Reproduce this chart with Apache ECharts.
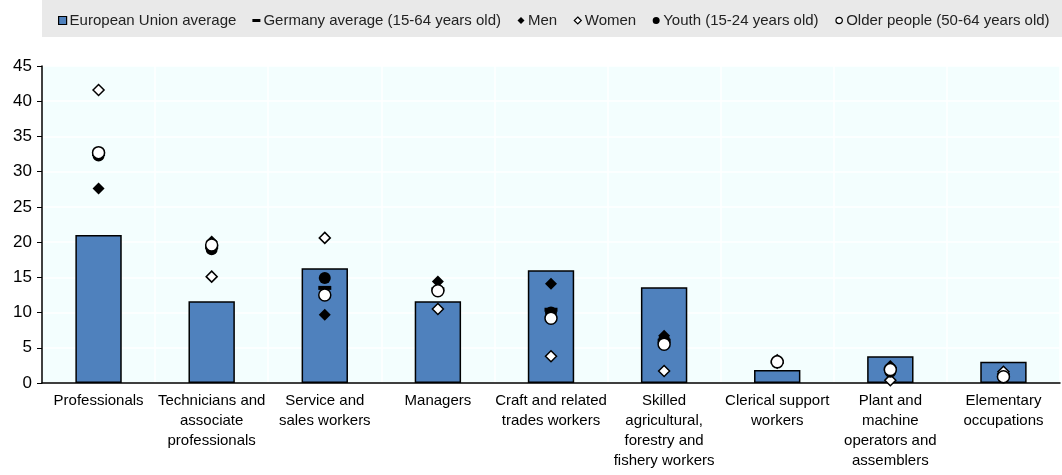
<!DOCTYPE html>
<html><head><meta charset="utf-8">
<script src="https://cdn.jsdelivr.net/npm/echarts@6/dist/echarts.min.js"></script>
<style>html,body{margin:0;padding:0;background:#fff}#c{width:1062px;height:475px}</style>
</head><body><div id="c"></div>
<script>
const categories = ['Professionals','Technicians and\nassociate\nprofessionals','Service and\nsales workers','Managers','Craft and related\ntrades workers','Skilled\nagricultural,\nforestry and\nfishery workers','Clerical support\nworkers','Plant and\nmachine\noperators and\nassemblers','Elementary\noccupations'];
const euAverage = [21.0, 11.6, 16.3, 11.6, 16.0, 13.6, 1.85, 3.8, 3.0];
const germanyAverage = [32.5, 19.3, 13.5, 13.3, 10.4, 6.0, 3.0, 2.0, 1.1];
const men = [27.6, 20.1, 9.7, 14.4, 14.1, 6.7, 3.3, 2.4, 1.4];
const women = [41.6, 15.1, 20.6, 10.5, 3.8, 1.7, 2.9, 0.4, 1.6];
const youth = [32.3, 19.0, 14.9, null, 10.0, 6.1, null, 1.6, 0.8];
const older = [32.7, 19.6, 12.5, 13.1, 9.2, 5.5, 3.0, 1.9, 0.9];
const legendNames = ['European Union average','Germany average (15-64 years old)','Men','Women','Youth (15-24 years old)','Older people (50-64 years old)'];
const yTicks = {min:0, max:45, interval:5};

const diamond = 'path://M5,0L10,5L5,10L0,5Z';
const chart = echarts.init(document.getElementById('c'));
const font = 'Liberation Sans, Arial, sans-serif';
chart.setOption({
  animation:false,
  textStyle:{fontFamily:font},
  graphic:[{type:'rect', shape:{x:42,y:0,width:1020,height:37}, style:{fill:'#e9e9e9'}, z:-10}],
  legend:{
    left:52, top:8, itemGap:15, itemWidth:10, itemHeight:10,
    textStyle:{fontFamily:font, fontSize:15, color:'#222', padding:[0,0,0,-3]},
    data:[
      {name:legendNames[0], icon:'path://M0,0M1,1L9,1L9,9L1,9ZM10,10', itemStyle:{color:'#4f81bd', borderColor:'#000', borderWidth:1.2}},
      {name:legendNames[1], icon:'path://M0,0M1,3.5L9,3.5L9,6.5L1,6.5ZM10,10', itemStyle:{color:'#000'}},
      {name:legendNames[2], icon:'path://M0,0M5,1.5L8.5,5L5,8.5L1.5,5ZM10,10', itemStyle:{color:'#000'}},
      {name:legendNames[3], icon:'path://M0,0M5,1.5L8.5,5L5,8.5L1.5,5ZM10,10', itemStyle:{color:'#fff', borderColor:'#000', borderWidth:1.2}},
      {name:legendNames[4], icon:'path://M0,0M5,1.5A3.5,3.5 0 1 1 4.99,1.5ZM10,10', itemStyle:{color:'#000'}},
      {name:legendNames[5], icon:'path://M0,0M5,1.8A3.2,3.2 0 1 1 4.99,1.8ZM10,10', itemStyle:{color:'#fff', borderColor:'#000', borderWidth:1.2}}
    ]
  },
  grid:{left:42, right:2, top:66, bottom:92, show:true, backgroundColor:'#f3fefe', borderWidth:0},
  xAxis:{
    type:'category', data:categories,
    axisLine:{lineStyle:{color:'#000', width:1.5}},
    axisTick:{inside:true, length:5, lineStyle:{color:'#000'}},
    splitLine:{show:true, lineStyle:{color:'#fff', width:1.5}},
    axisLabel:{interval:0, color:'#000', fontSize:15, lineHeight:20, margin:8, fontFamily:font}
  },
  yAxis:{
    type:'value', min:yTicks.min, max:yTicks.max, interval:yTicks.interval,
    axisLine:{show:true, lineStyle:{color:'#000', width:1.5}},
    axisTick:{show:true, length:5, lineStyle:{color:'#000'}},
    splitLine:{lineStyle:{color:'#fff', width:1.5}},
    axisLabel:{color:'#000', fontSize:17, margin:10, fontFamily:font}
  },
  series:[
    {name:legendNames[0], type:'bar', data:euAverage, barWidth:'41%',
     itemStyle:{color:'#4f81bd', borderColor:'#000', borderWidth:1.5}, z:2},
    {name:legendNames[1], type:'scatter', data:germanyAverage, symbol:'rect', symbolSize:[13,4],
     itemStyle:{color:'#000', opacity:1}, z:3},
    {name:legendNames[2], type:'scatter', data:men, symbol:diamond, symbolSize:12,
     itemStyle:{color:'#000', opacity:1}, z:4},
    {name:legendNames[3], type:'scatter', data:women, symbol:diamond, symbolSize:11,
     itemStyle:{color:'#fff', borderColor:'#000', borderWidth:1.5, opacity:1}, z:5},
    {name:legendNames[4], type:'scatter', data:youth, symbol:'circle', symbolSize:12,
     itemStyle:{color:'#000', opacity:1}, z:6},
    {name:legendNames[5], type:'scatter', data:older, symbol:'circle', symbolSize:12,
     itemStyle:{color:'#fff', borderColor:'#000', borderWidth:1.5, opacity:1}, z:7}
  ]
});
</script></body></html>
